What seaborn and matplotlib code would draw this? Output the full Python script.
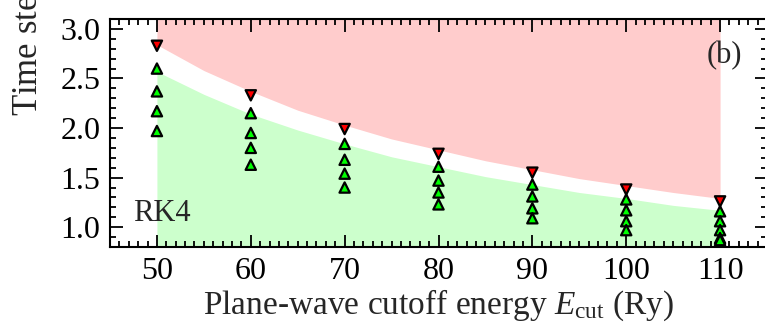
import matplotlib
matplotlib.use("Agg")
import matplotlib.pyplot as plt
import seaborn as sns
import pandas as pd
from matplotlib.ticker import MultipleLocator

# ---- data ----
ecut = [50, 60, 70, 80, 90, 100, 110]
unstable_dt = [2.83, 2.33, 1.99, 1.74, 1.55, 1.38, 1.26]
stable_dt = [
    [2.60, 2.37, 2.17, 1.97],
    [2.15, 1.95, 1.80, 1.63],
    [1.84, 1.68, 1.54, 1.40],
    [1.61, 1.47, 1.35, 1.23],
    [1.43, 1.31, 1.19, 1.09],
    [1.28, 1.17, 1.06, 0.97],
    [1.16, 1.06, 0.97, 0.89, 0.87],
]
# region boundaries (read at 5 Ry spacing)
bound_e = [50, 55, 60, 65, 70, 75, 80, 85, 90, 95, 100, 105, 110]
unstable_bound = [2.84, 2.58, 2.37, 2.18, 2.03, 1.89, 1.78, 1.67, 1.58, 1.49, 1.42, 1.35, 1.29]
stable_bound = [2.57, 2.34, 2.14, 1.98, 1.84, 1.71, 1.61, 1.51, 1.43, 1.35, 1.29, 1.22, 1.17]

x_ticks = [50, 60, 70, 80, 90, 100, 110]
y_ticks = [1.0, 1.5, 2.0, 2.5, 3.0]

rows = []
for e, vals in zip(ecut, stable_dt):
    for v in vals:
        rows.append({"E": e, "dt": v, "kind": "stable"})
for e, v in zip(ecut, unstable_dt):
    rows.append({"E": e, "dt": v, "kind": "unstable"})
df = pd.DataFrame(rows)

sns.set_theme(style="ticks")
plt.rcParams["font.family"] = ["Liberation Serif", "DejaVu Serif"]
plt.rcParams["mathtext.fontset"] = "custom"
plt.rcParams["mathtext.rm"] = "Liberation Serif"
plt.rcParams["mathtext.it"] = "Liberation Serif:italic"

fig = plt.figure(figsize=(7.65, 3.22), dpi=100)
ax = fig.add_axes([110 / 765, 1 - 247 / 322, 657 / 765, 228 / 322])

ymin, ymax = 0.8, 3.1
ax.fill_between(bound_e, ymin, stable_bound, color="#ccffcc", linewidth=0, zorder=0)
ax.fill_between(bound_e, unstable_bound, ymax, color="#ffcccc", linewidth=0, zorder=0)

sns.scatterplot(data=df, x="E", y="dt", hue="kind", style="kind",
                markers={"stable": "^", "unstable": "v"},
                palette={"stable": "#00ff00", "unstable": "#ff0000"},
                s=55, edgecolor="black", linewidth=1.6, legend=False, ax=ax, zorder=3)

ax.set_xlim(45, 115)
ax.set_ylim(ymin, ymax)
ax.set_xticks(x_ticks)
ax.set_yticks(y_ticks)
ax.set_yticklabels([f"{v:.1f}" for v in y_ticks])
ax.xaxis.set_minor_locator(MultipleLocator(1))
ax.yaxis.set_minor_locator(MultipleLocator(0.1))
ax.tick_params(which="both", direction="in", top=True, right=True, width=1.3,
               labelsize=23, colors="black")
ax.tick_params(which="major", length=9, pad=7)
ax.tick_params(which="minor", length=4)
for sp in ax.spines.values():
    sp.set_linewidth(1.5)
    sp.set_color("black")

ax.set_xlabel(r"Plane-wave cutoff energy $E_{\rm cut}$ (Ry)", fontsize=24, labelpad=1)
ax.set_ylabel("")
fig.text(0.012, 1 - 116 / 322, r"Time step $\Delta t$ (a.u.)", rotation=90,
         ha="left", va="bottom", fontsize=25)

ax.text(47.5, 1.14, "RK4", fontsize=22, va="center", ha="left")
ax.text(108.6, 2.73, "(b)", fontsize=22, va="center", ha="left")

fig.savefig("out.png", dpi=100)
